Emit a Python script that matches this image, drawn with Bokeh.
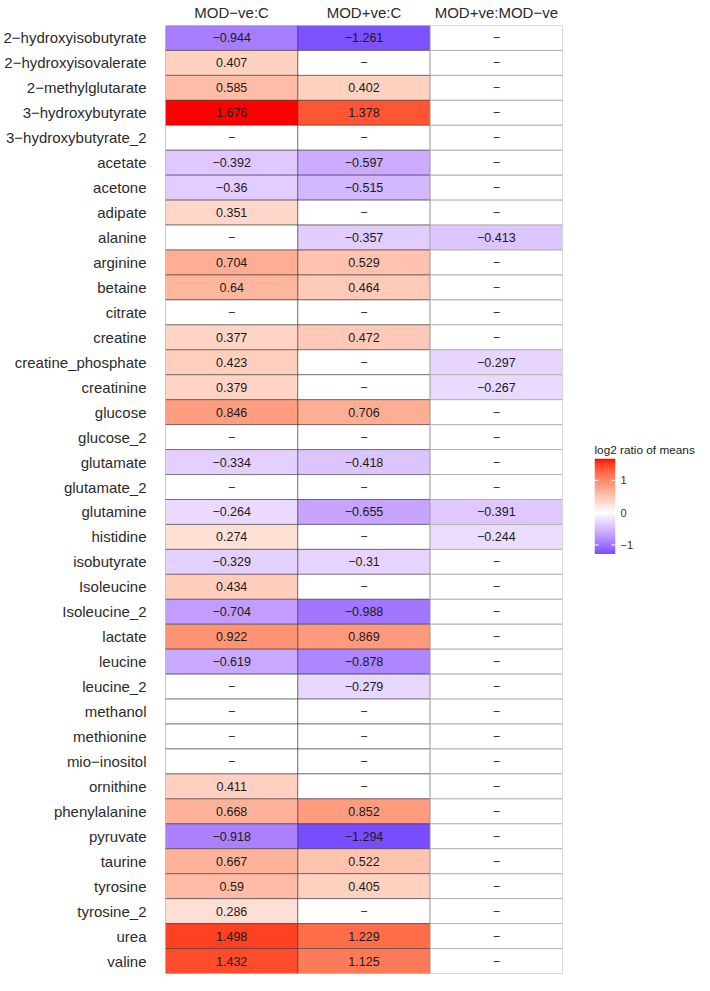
import numpy as np
from bokeh.plotting import figure
from bokeh.layouts import row, column
from bokeh.models import ColumnDataSource, LinearColorMapper, FixedTicker, Range1d, Spacer
from bokeh.embed import file_html
from bokeh.resources import INLINE
from bokeh.core.properties import value

M = "\u2212"

metabolites = [
    "2-hydroxyisobutyrate", "2-hydroxyisovalerate", "2-methylglutarate",
    "3-hydroxybutyrate", "3-hydroxybutyrate_2", "acetate", "acetone", "adipate",
    "alanine", "arginine", "betaine", "citrate", "creatine", "creatine_phosphate",
    "creatinine", "glucose", "glucose_2", "glutamate", "glutamate_2", "glutamine",
    "histidine", "isobutyrate", "Isoleucine", "Isoleucine_2", "lactate", "leucine",
    "leucine_2", "methanol", "methionine", "mio-inositol", "ornithine",
    "phenylalanine", "pyruvate", "taurine", "tyrosine", "tyrosine_2", "urea", "valine",
]
comparisons = ["MOD-ve:C", "MOD+ve:C", "MOD+ve:MOD-ve"]

mod_neg_vs_c = [
    -0.944, 0.407, 0.585, 1.676, None, -0.392, -0.36, 0.351,
    None, 0.704, 0.64, None, 0.377, 0.423,
    0.379, 0.846, None, -0.334, None, -0.264,
    0.274, -0.329, 0.434, -0.704, 0.922, -0.619,
    None, None, None, None, 0.411,
    0.668, -0.918, 0.667, 0.59, 0.286, 1.498, 1.432,
]
mod_pos_vs_c = [
    -1.261, None, 0.402, 1.378, None, -0.597, -0.515, None,
    -0.357, 0.529, 0.464, None, 0.472, None,
    None, 0.706, None, -0.418, None, -0.655,
    None, -0.31, None, -0.988, 0.869, -0.878,
    -0.279, None, None, None, None,
    0.852, -1.294, 0.522, 0.405, None, 1.229, 1.125,
]
mod_pos_vs_mod_neg = [
    None, None, None, None, None, None, None, None,
    -0.413, None, None, None, None, -0.297,
    -0.267, None, None, None, None, -0.391,
    -0.244, None, None, None, None, None,
    None, None, None, None, None,
    None, None, None, None, None, None, None,
]
series = [mod_neg_vs_c, mod_pos_vs_c, mod_pos_vs_mod_neg]
legend_ticks = [-1, 0, 1]
legend_title = "log2 ratio of means"


def disp(s):
    return s.replace("-", M)


# ---- CIELAB interpolation (like ggplot2 scale_fill_gradient2) ----
def hex_rgb(h):
    h = h.lstrip("#")
    return [int(h[i:i + 2], 16) / 255 for i in (0, 2, 4)]


def to_lab(h):
    r, g, b = [c / 12.92 if c <= 0.04045 else ((c + 0.055) / 1.055) ** 2.4 for c in hex_rgb(h)]
    X = (0.4124 * r + 0.3576 * g + 0.1805 * b) / 0.95047
    Y = (0.2126 * r + 0.7152 * g + 0.0722 * b) / 1.0
    Z = (0.0193 * r + 0.1192 * g + 0.9505 * b) / 1.08883
    d = 6 / 29
    f = lambda t: t ** (1 / 3) if t > d ** 3 else t / (3 * d * d) + 4 / 29
    fx, fy, fz = f(X), f(Y), f(Z)
    return (116 * fy - 16, 500 * (fx - fy), 200 * (fy - fz))


def from_lab(L, a, b):
    d = 6 / 29
    fy = (L + 16) / 116
    fx = fy + a / 500
    fz = fy - b / 200
    fi = lambda t: t ** 3 if t > d else 3 * d * d * (t - 4 / 29)
    X, Y, Z = 0.95047 * fi(fx), fi(fy), 1.08883 * fi(fz)
    r = 3.2406 * X - 1.5372 * Y - 0.4986 * Z
    g = -0.9689 * X + 1.8758 * Y + 0.0415 * Z
    bb = 0.0557 * X - 0.2040 * Y + 1.0570 * Z
    out = []
    for c in (r, g, bb):
        c = 12.92 * c if c <= 0.0031308 else 1.055 * c ** (1 / 2.4) - 0.055
        out.append(int(round(min(max(c, 0), 1) * 255)))
    return "#%02x%02x%02x" % tuple(out)


LOW, MID, HIGH = to_lab("#0000ff"), to_lab("#ffffff"), to_lab("#ff0000")


def ramp(t):
    if t < 0.5:
        A, B, s = LOW, MID, t / 0.5
    else:
        A, B, s = MID, HIGH, (t - 0.5) / 0.5
    return from_lab(*[A[i] + (B[i] - A[i]) * s for i in range(3)])


all_vals = [v for s in series for v in s if v is not None]
maxabs = max(abs(v) for v in all_vals)
vmin, vmax = min(all_vals), max(all_vals)

xs, ys, fills, labels, lcol, lalpha = [], [], [], [], [], []
for ci, (comp, vals) in enumerate(zip(comparisons, series)):
    for met, v in zip(metabolites, vals):
        xs.append(disp(comp))
        ys.append(disp(met))
        if v is None:
            fills.append("#ffffff")
            labels.append(M)
        else:
            fills.append(ramp(v / (2 * maxabs) + 0.5))
            labels.append(disp(str(round(v, 3))))
        if ci < 2:
            lcol.append("#2a2a2a"); lalpha.append(0.5)
        else:
            lcol.append("#b3b3b3"); lalpha.append(1.0)

src = ColumnDataSource(dict(x=xs, y=ys, fill=fills, label=labels, lc=lcol, la=lalpha))

# ---------------- main heatmap ----------------
p = figure(
    width=594, height=975,
    x_range=[disp(c) for c in comparisons],
    y_range=[disp(m) for m in reversed(metabolites)],
    x_axis_location="above",
    output_backend="svg", toolbar_location=None,
    min_border_left=162, min_border_right=32, min_border_top=20, min_border_bottom=2,
)
p.rect(x="x", y="y", width=1, height=1, source=src, fill_color="fill",
       line_color="lc", line_alpha="la", line_width=1)
p.text(x="x", y="y", text="label", source=src, text_align="center",
       text_baseline="middle", text_font=value("Liberation Sans"),
       text_font_size="12.5px", text_color="#1a1a1a")

p.grid.visible = False
p.outline_line_color = None
p.background_fill_color = "white"
p.border_fill_color = "white"
for ax in (p.xaxis, p.yaxis):
    ax.axis_line_color = None
    ax.major_tick_line_color = None
    ax.minor_tick_line_color = None
    ax.major_tick_out = 0
    ax.major_tick_in = 0
    ax.major_label_text_font = "Liberation Sans"
    ax.major_label_text_font_size = "15px"
    ax.major_label_text_color = "#2b2b2b"
p.yaxis.major_label_standoff = 19
p.xaxis.major_label_standoff = 5

# ---------------- colour legend ----------------
palette = [ramp(i / 255) for i in range(256)]
mapper = LinearColorMapper(palette=palette, low=-maxabs, high=maxabs)

lg = figure(
    width=102, height=20 + 96,
    x_range=Range1d(0, 1), y_range=Range1d(vmin, vmax),
    x_axis_location=None, y_axis_location="right",
    output_backend="svg", toolbar_location=None,
    min_border_left=0, min_border_right=81, min_border_top=20, min_border_bottom=0,
    title=legend_title,
)
grad = np.linspace(vmin, vmax, 300).reshape(-1, 1)
lg.image(image=[grad], x=0, y=vmin, dw=1, dh=vmax - vmin, color_mapper=mapper)
tk = np.array(legend_ticks, dtype=float)
lg.segment(x0=np.zeros(3), x1=np.full(3, 0.2), y0=tk, y1=tk, line_color="white", line_width=1)
lg.segment(x0=np.full(3, 0.8), x1=np.ones(3), y0=tk, y1=tk, line_color="white", line_width=1)
lg.grid.visible = False
lg.outline_line_color = None
lg.background_fill_color = "white"
lg.border_fill_color = "white"
lg.title.align = "left"
lg.title.text_font = "Liberation Sans"
lg.title.text_font_size = "11.8px"
lg.title.text_font_style = "normal"
lg.title.text_color = "#1a1a1a"
lg.title.standoff = 4
ya = lg.yaxis[0]
ya.ticker = FixedTicker(ticks=legend_ticks)
ya.axis_line_color = None
ya.major_tick_line_color = None
ya.minor_tick_line_color = None
ya.major_tick_out = 0
ya.major_tick_in = 0
ya.major_label_standoff = 5
ya.major_label_text_font = "Liberation Sans"
ya.major_label_text_font_size = "11px"
ya.major_label_text_color = "#333333"
ya.major_label_overrides = {-1: M + "1", 0: "0", 1: "1"}

legend_col = column(Spacer(width=102, height=438), lg)
layout = row(p, legend_col)
open("out.html", "w").write(file_html(layout, INLINE))
